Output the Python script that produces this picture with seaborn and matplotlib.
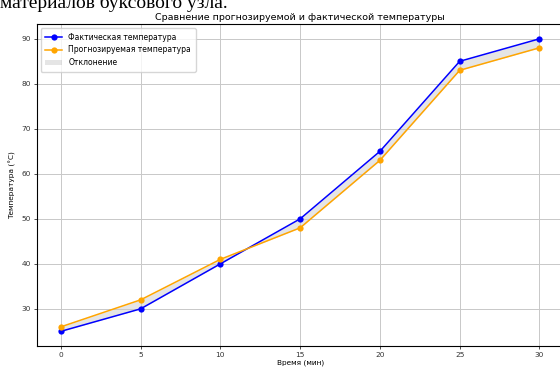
import matplotlib
matplotlib.use("Agg")
import matplotlib.pyplot as plt
import seaborn as sns
import pandas as pd

# Время измерений и температуры
time_min = [0, 5, 10, 15, 20, 25, 30]
actual_temp = [25, 30, 40, 50, 65, 85, 90]
predicted_temp = [26, 32, 41, 48, 63, 83, 88]
x_ticks = [0, 5, 10, 15, 20, 25, 30]
y_ticks = [30, 40, 50, 60, 70, 80, 90]

df = pd.DataFrame({"t": time_min, "actual": actual_temp, "pred": predicted_temp})

plt.rcParams["font.family"] = ["DejaVu Sans"]

fig = plt.figure(figsize=(5.6, 3.72), dpi=100)
ax = fig.add_axes([0.066, 0.070, 0.940, 0.865])

sns.lineplot(data=df, x="t", y="actual", ax=ax, color="blue", marker="o",
             markersize=4.5, markeredgewidth=0, linewidth=1.1,
             label="Фактическая температура")
sns.lineplot(data=df, x="t", y="pred", ax=ax, color="orange", marker="o",
             markersize=4.5, markeredgewidth=0, linewidth=1.1,
             label="Прогнозируемая температура")
ax.fill_between(df["t"], df["actual"], df["pred"], color="gray", alpha=0.2,
                linewidth=0, label="Отклонение")

ax.set_xticks(x_ticks)
ax.set_yticks(y_ticks)
ax.tick_params(labelsize=5.3, length=2.5, width=0.6, pad=1.8, colors="#333333")
ax.grid(True, color="#c8c8c8", linewidth=0.7)
for s in ax.spines.values():
    s.set_linewidth(0.8)
ax.set_xlabel("Время (мин)", fontsize=5.3, labelpad=1)
ax.set_ylabel("Температура (°C)", fontsize=5.3, labelpad=4)
ax.set_title("Сравнение прогнозируемой и фактической температуры", fontsize=6.8, pad=3)
ax.legend(loc="upper left", fontsize=5.5, framealpha=0.8, borderpad=0.6,
          handlelength=2.2)

fig.text(0.0, 1.0 - 8 / 372, "материалов буксового узла.", family="Liberation Serif",
         fontsize=14, va="baseline", ha="left")

fig.savefig("out.png", dpi=100)
